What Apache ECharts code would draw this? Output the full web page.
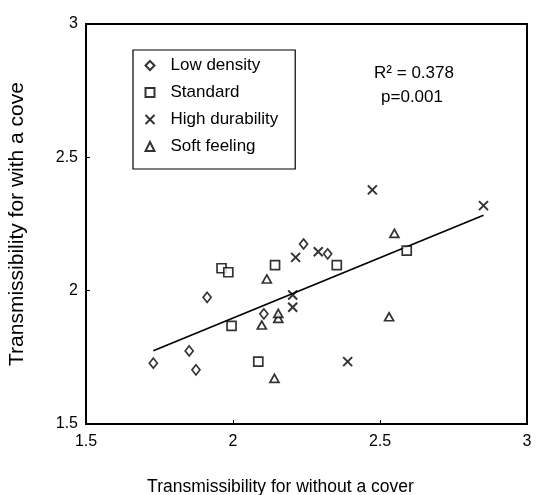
<!DOCTYPE html>
<html>
<head>
<meta charset="utf-8">
<script src="https://cdn.jsdelivr.net/npm/echarts@6/dist/echarts.min.js"></script>
<style>
  html, body { margin: 0; padding: 0; background: #fff; }
  #chart { width: 536px; height: 495px; }
</style>
</head>
<body>
<div id="chart"></div>
<script>
// Transmissibility without cover (x) vs. with cover (y), by cushion type
const lowDensityX = [1.729, 1.851, 1.874, 1.912, 2.105, 2.240, 2.322];
const lowDensityY = [1.728, 1.774, 1.703, 1.975, 1.913, 2.175, 2.138];

const standardX = [1.961, 1.984, 2.143, 2.353, 2.591, 1.995, 2.086];
const standardY = [2.084, 2.069, 2.096, 2.096, 2.150, 1.868, 1.734];

const highDurX = [2.474, 2.852, 2.213, 2.290, 2.203, 2.203, 2.390];
const highDurY = [2.378, 2.319, 2.125, 2.146, 1.984, 1.938, 1.734];

const softX = [2.549, 2.115, 2.098, 2.154, 2.154, 2.531, 2.141];
const softY = [2.215, 2.044, 1.871, 1.896, 1.915, 1.902, 1.671];

// Regression line endpoints
const fitX = [1.729, 2.852];
const fitY = [1.775, 2.283];

const seriesNames = ['Low density', 'Standard', 'High durability', 'Soft feeling'];
const axisTicks = [1.5, 2, 2.5, 3];
const statLines = ['R\u00B2 = 0.378', 'p=0.001'];

const zip = (xs, ys) => xs.map((x, i) => [x, ys[i]]);

const font = 'Liberation Sans, Arial, sans-serif';
const crossPath = 'path://M0,0L10,10M10,0L0,10';

const markerStyle = {
  color: '#fff',
  borderColor: '#000',
  borderWidth: 1.7
};

const chart = echarts.init(document.getElementById('chart'), null, { renderer: 'canvas' });

chart.setOption({
  backgroundColor: '#fff',
  animation: false,
  grid: {
    left: 86, top: 24, right: 9, bottom: 71,
    outerBoundsMode: 'none',
    containLabel: false,
    show: true, borderColor: '#000', borderWidth: 2, backgroundColor: 'transparent'
  },
  legend: {
    orient: 'vertical',
    left: 133, top: 50,
    padding: [7, 17, 14, 10],
    itemGap: 10,
    itemWidth: 9, itemHeight: 9,
    borderColor: '#000', borderWidth: 1.2,
    textStyle: { fontFamily: font, fontSize: 17, color: '#000', padding: [0, 0, 8, 11] },
    data: seriesNames.map(n => ({ name: n }))
  },
  xAxis: {
    type: 'value',
    min: 1.5, max: 3, interval: 0.5,
    name: 'Transmissibility for without a cover',
    nameLocation: 'middle', nameGap: 54,
    nameTextStyle: { fontFamily: font, fontSize: 17.5, color: '#000', padding: [0, 52, 0, 0] },
    axisLine: { lineStyle: { color: '#000', width: 2 } },
    axisTick: { inside: true, length: 4, lineStyle: { color: '#000' } },
    axisLabel: {
      fontFamily: font, fontSize: 16, color: '#000', margin: 10,
      formatter: v => axisTicks.includes(v) ? String(v) : ''
    },
    splitLine: { show: false }
  },
  yAxis: {
    type: 'value',
    min: 1.5, max: 3, interval: 0.5,
    name: 'Transmissibility for with a cove',
    nameLocation: 'middle', nameGap: 58, nameRotate: 90,
    nameTextStyle: { fontFamily: font, fontSize: 21, color: '#000' },
    axisLine: { lineStyle: { color: '#000', width: 2 } },
    axisTick: { inside: true, length: 4, lineStyle: { color: '#000' } },
    axisLabel: {
      fontFamily: font, fontSize: 16, color: '#000', margin: 8,
      formatter: v => axisTicks.includes(v) ? String(v) : ''
    },
    splitLine: { show: false }
  },
  graphic: [
    {
      type: 'text', x: 414, y: 73,
      style: { text: statLines[0], font: '17px ' + font, fill: '#000',
               align: 'center', verticalAlign: 'middle' }
    },
    {
      type: 'text', x: 412, y: 97,
      style: { text: statLines[1], font: '17px ' + font, fill: '#000',
               align: 'center', verticalAlign: 'middle' }
    }
  ],
  series: [
    {
      name: 'fit', type: 'line', data: zip(fitX, fitY),
      symbol: 'none', lineStyle: { color: '#000', width: 1.7 },
      silent: true, z: 1
    },
    {
      name: seriesNames[0], type: 'scatter', data: zip(lowDensityX, lowDensityY),
      symbol: 'diamond', symbolSize: [8, 10], itemStyle: markerStyle, z: 3
    },
    {
      name: seriesNames[1], type: 'scatter', data: zip(standardX, standardY),
      symbol: 'rect', symbolSize: 9, itemStyle: markerStyle, z: 3
    },
    {
      name: seriesNames[2], type: 'scatter', data: zip(highDurX, highDurY),
      symbol: crossPath, symbolSize: 9,
      itemStyle: { color: 'none', borderColor: '#000', borderWidth: 2 }, z: 3
    },
    {
      name: seriesNames[3], type: 'scatter', data: zip(softX, softY),
      symbol: 'triangle', symbolSize: [9, 8], itemStyle: markerStyle, z: 3
    }
  ]
});
</script>
</body>
</html>
